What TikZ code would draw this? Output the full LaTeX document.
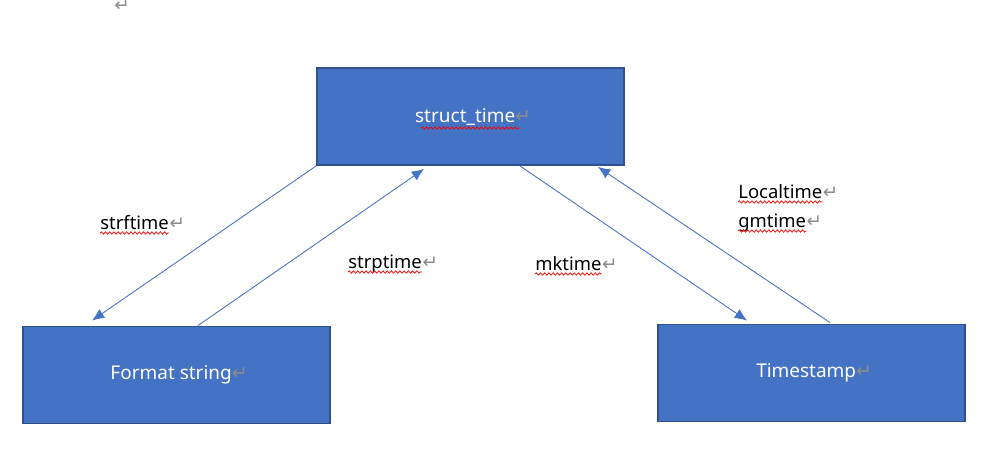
\documentclass[tikz,border=0pt]{standalone}
\usepackage{fontspec}
\setmainfont{Noto Sans}
\newfontfamily\markfont{DejaVu Sans}
\usetikzlibrary{arrows.meta,decorations.pathmorphing}
\definecolor{boxblue}{HTML}{4472C4}
\definecolor{boxedge}{HTML}{2F528F}
\definecolor{markgray}{HTML}{8C8C8C}
\newcommand{\retmark}{{\markfont\color{markgray}\char"21B5}}

\begin{document}
\begin{tikzpicture}[x=0.02cm,y=-0.02cm,
    box/.style={draw=boxedge,fill=boxblue,line width=1.1pt,minimum width=6.14cm,
      minimum height=1.94cm,text=white,font=\fontsize{10.8}{12}\selectfont},
    conn/.style={boxblue,line width=0.5pt,-{Latex[length=7pt,width=6pt]}},
    lbl/.style={inner sep=0pt,anchor=base west,font=\fontsize{10.5}{12}\selectfont},
    squig/.style={red,line width=0.4pt,decorate,
      decoration={snake,amplitude=0.7pt,segment length=2.4pt}}]
  \useasboundingbox (0,0) rectangle (993,453);
  \node[inner sep=0pt,anchor=north] at (122,0) {\fontsize{10.5}{12}\selectfont\retmark};

  % the three boxes
  \node[box] (st) at (470.5,116.5) {\raisebox{-1.7pt}{\hspace{3pt}struct\_time\retmark}};
  \node[box] (fmt) at (176.5,375) {\raisebox{-1.7pt}{\hspace{3pt}Format string\retmark}};
  \node[box] (ts) at (811.5,373) {\raisebox{-1.7pt}{\hspace{3pt}Timestamp\retmark}};
  \draw[squig] (421,128) -- (520,128);

  % connectors
  \draw[conn] (st.south west) -- ([xshift=-1.69cm,yshift=0.1cm]fmt.north);
  \draw[conn] ([xshift=0.43cm]fmt.north) -- ([xshift=-0.93cm,yshift=-0.06cm]st.south);
  \draw[conn] ([xshift=0.99cm]st.south) -- ([xshift=-1.29cm,yshift=0.06cm]ts.north);
  \draw[conn] ([xshift=0.37cm,yshift=0.02cm]ts.north) -- ([xshift=2.55cm,yshift=-0.02cm]st.south);

  % labels
  \foreach \n/\x/\y/\t in {strf/100/229/strftime, strp/348/268/strptime,
      mk/535/270/mktime, loc/738/198/Localtime, gm/738/227/gmtime} {
    \node[lbl] (\n) at (\x,\y) {\t};
    \node[lbl] at (\n.base east) {\retmark};
    \draw[squig] ([yshift=-0.08cm]\n.base west) -- ([yshift=-0.08cm]\n.base east);
  }
\end{tikzpicture}
\end{document}
